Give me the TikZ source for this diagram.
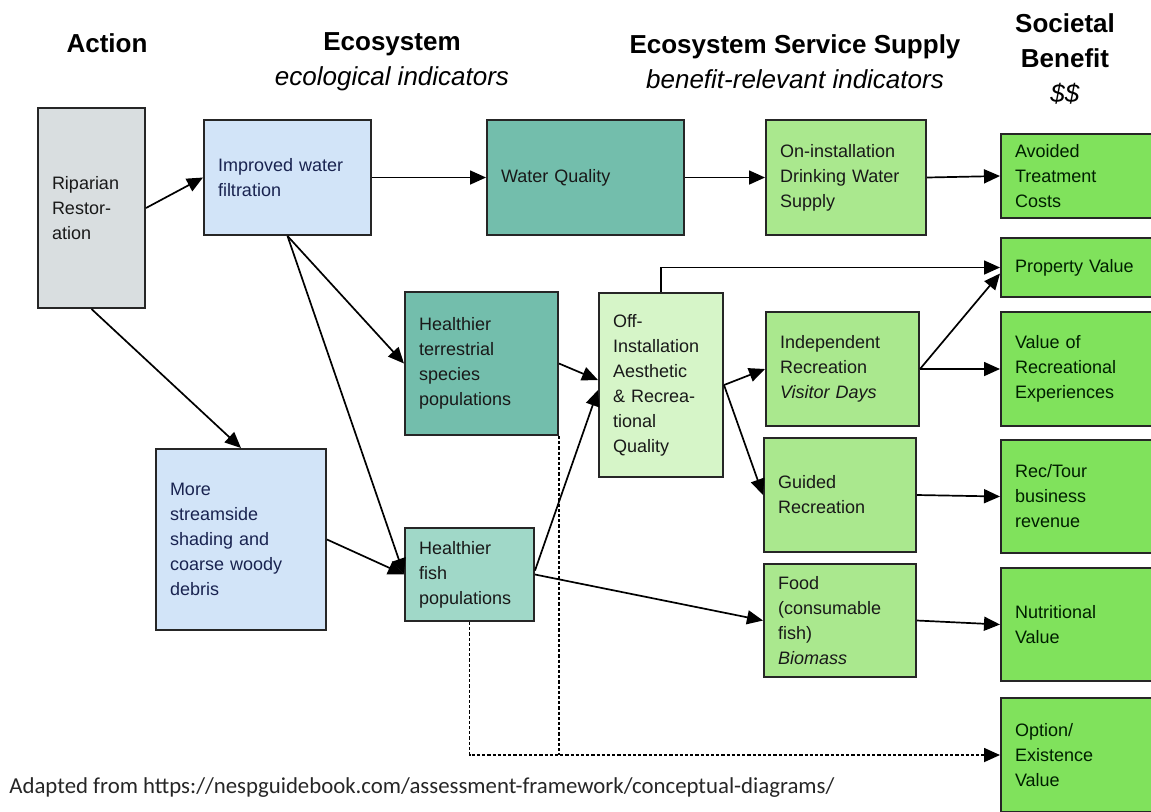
\documentclass[tikz,border=0pt]{standalone}
\usepackage{fontspec}
\setmainfont{Liberation Sans}
\newfontfamily\srcfont{Carlito}
\usetikzlibrary{arrows.meta}

\definecolor{actgray}{RGB}{217,222,224}
\definecolor{ecoblue}{RGB}{210,228,248}
\definecolor{ecoteal}{RGB}{115,190,172}
\definecolor{fishteal}{RGB}{160,216,200}
\definecolor{supgreen}{RGB}{170,232,142}
\definecolor{offgreen}{RGB}{214,245,200}
\definecolor{bengreen}{RGB}{128,226,92}
\definecolor{navy}{RGB}{25,35,80}

\tikzset{
  box/.style={draw=black!85, line width=1pt, inner xsep=7pt, inner ysep=0pt, align=left, text=black!90, font=\fontsize{9}{12.5}\selectfont},
  ben/.style={box, fill=bengreen, text=black!80!green!60!black, minimum width=79.5pt, text width=65.5pt},
  arr/.style={-{Triangle[length=8pt,width=7pt]}, line width=0.85pt},
  optline/.style={dash pattern=on 1.6pt off 1pt, line width=0.85pt},
  head/.style={align=center, font=\fontsize{13}{17.5}\selectfont},
}

\begin{document}
\begin{tikzpicture}[x=0.5pt, y=-0.5pt]
  \useasboundingbox (0,0) rectangle (1151,811);

  \node[head] (hact) at (107,43) {\textbf{Action}};
  \node[head] (heco) at (392,62) {\textbf{Ecosystem}\\\textit{ecological indicators}};
  \node[head] (hess) at (795,62) {\textbf{Ecosystem Service Supply}\\\textit{benefit-relevant indicators}};
  \node[head] (hben) at (1065,59) {\textbf{Societal}\\\textbf{Benefit}\\\textit{\$\$}};

  \node[box, fill=actgray, minimum width=53.5pt, text width=39.5pt, minimum height=100pt] (rip) at (91.5,208) {Riparian\\Restor-\\ation};

  \node[box, fill=ecoblue, text=navy, minimum width=83.5pt, text width=69.5pt, minimum height=57.5pt] (filt) at (287.5,177.5) {Improved water\\filtration};
  \node[box, fill=ecoblue, text=navy, minimum width=85pt, text width=71pt, minimum height=90.5pt] (shade) at (241,539.5) {More\\streamside\\shading and\\coarse woody\\debris};
  \node[box, fill=ecoteal, minimum width=98.5pt, text width=84.5pt, minimum height=57.5pt] (wq) at (585.5,177.5) {Water Quality};
  \node[box, fill=ecoteal, minimum width=76.5pt, text width=62.5pt, minimum height=71.5pt] (terr) at (481.5,363.5) {Healthier\\terrestrial\\species\\populations};
  \node[box, fill=fishteal, minimum width=64.5pt, text width=50.5pt, minimum height=46.5pt] (fish) at (469.5,574.5) {Healthier\\fish\\populations};

  \node[box, fill=supgreen, minimum width=80pt, text width=66pt, minimum height=57.5pt] (dws) at (846,177.5) {On-installation\\Drinking Water\\Supply};
  \node[box, fill=offgreen, minimum width=62pt, text width=48pt, minimum height=92pt] (off) at (661,385) {Off-\\Installation\\Aesthetic\\\& Recrea-\\tional\\Quality};
  \node[box, fill=supgreen, minimum width=76.5pt, text width=62.5pt, minimum height=57pt] (ind) at (842.5,369) {Independent\\Recreation\\\textit{Visitor Days}};
  \node[box, fill=supgreen, minimum width=76pt, text width=62pt, minimum height=57pt] (gui) at (840,495) {Guided\\Recreation};
  \node[box, fill=supgreen, minimum width=76pt, text width=62pt, minimum height=56.5pt] (food) at (840,620.5) {Food\\(consumable\\fish)\\\textit{Biomass}};

  \node[ben, minimum height=42pt] (atc) at (1080.5,176) {Avoided\\Treatment\\Costs};
  \node[ben, minimum height=29.5pt] (prop) at (1080.5,267.5) {Property Value};
  \node[ben, minimum height=57pt] (vre) at (1080.5,369) {Value of\\Recreational\\Experiences};
  \node[ben, minimum height=56.5pt] (rtb) at (1080.5,496.5) {Rec/Tour\\business\\revenue};
  \node[ben, minimum height=56.5pt] (nut) at (1080.5,624.5) {Nutritional\\Value};
  \node[ben, minimum height=57pt] (opt) at (1080.5,755) {Option/\\Existence\\Value};

  \node[anchor=base west, inner sep=0pt, text=black!85, font=\srcfont\fontsize{11.4}{14}\selectfont] (src) at (9,793) {Adapted from https://nespguidebook.com/assessment-framework/conceptual-diagrams/};

  \draw[arr] (rip.east) -- (filt.west);
  \draw[arr] (filt.east) -- (wq.west);
  \draw[arr] (wq.east) -- (dws.west);
  \draw[arr] (dws.east) -- (atc.west);
  \draw[arr] (rip.south) -- (shade.north);
  \draw[arr] (filt.south) -- (terr.west);
  \draw[arr] (filt.south) -- (fish.west);
  \draw[arr] (shade.east) -- (fish.west);
  \draw[arr] (terr.east) -- ([yshift=2.5pt]off.west);
  \draw[arr] ([yshift=2pt]fish.east) -- ([yshift=-2.5pt]off.west);
  \draw[arr] (fish.east) -- (food.west);
  \draw[arr] (off.north) |- (prop.west);
  \draw[arr] (off.east) -- (ind.west);
  \draw[arr] (off.east) -- (gui.west);
  \draw[arr] (ind.east) -- ([yshift=-3pt]prop.west);
  \draw[arr] (ind.east) -- (vre.west);
  \draw[arr] (gui.east) -- (rtb.west);
  \draw[arr] (food.east) -- (nut.west);
  \draw[optline, arr] (fish.south) |- (opt.west);
  \draw[optline] (terr.south east) -- (terr.south east |- opt.west);
\end{tikzpicture}
\end{document}
